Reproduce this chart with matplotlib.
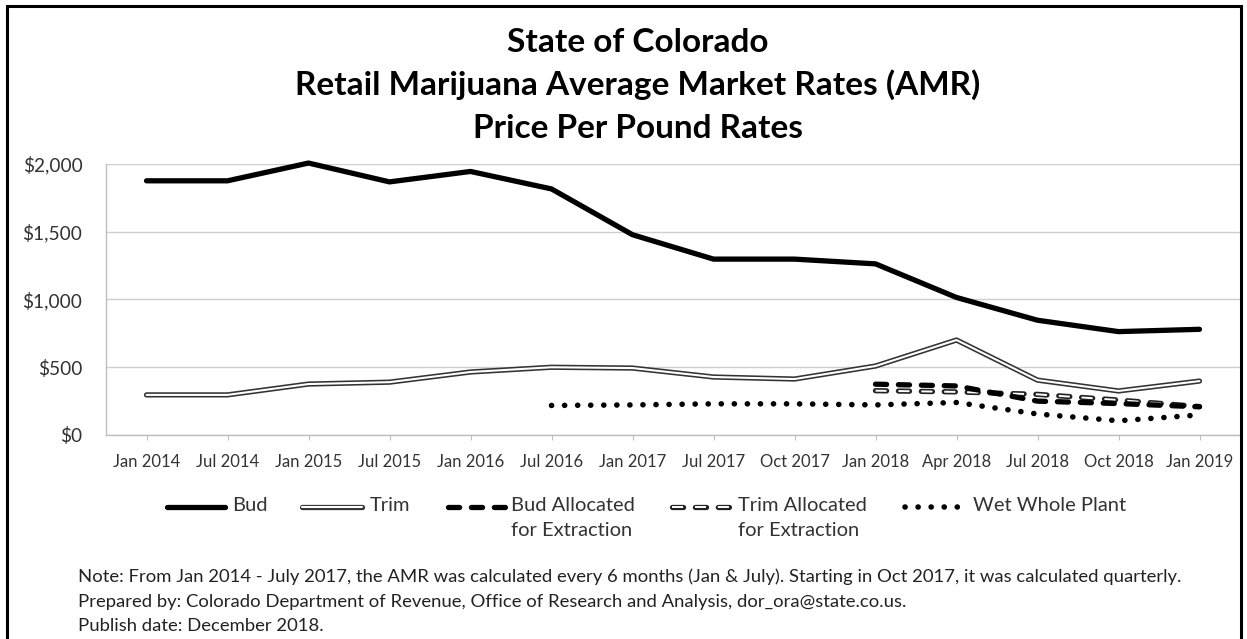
import numpy as np
import matplotlib
matplotlib.use("Agg")
import matplotlib.pyplot as plt
from matplotlib.lines import Line2D
from matplotlib.patches import Rectangle
from matplotlib.ticker import FuncFormatter

plt.rcParams['font.family'] = ['Lato', 'DejaVu Sans']
plt.rcParams['lines.scale_dashes'] = False

# === Data ===
periods = ['Jan 2014', 'Jul 2014', 'Jan 2015', 'Jul 2015', 'Jan 2016', 'Jul 2016',
           'Jan 2017', 'Jul 2017', 'Oct 2017', 'Jan 2018', 'Apr 2018', 'Jul 2018',
           'Oct 2018', 'Jan 2019']
bud = [1876, 1876, 2007, 1868, 1945, 1816, 1478, 1298, 1298, 1263, 1015, 847, 763, 780]
trim = [296, 296, 376, 390, 465, 500, 494, 428, 413, 509, 701, 405, 325, 398]
nan = np.nan
bud_extraction = [nan] * 9 + [375, 362, 250, 232, 208]
trim_extraction = [nan] * 9 + [327, 318, 300, 258, 210]
wet_whole_plant = [nan] * 5 + [218, 222, 230, 230, 222, 240, 155, 105, 148]

title_lines = ['State of Colorado',
               'Retail Marijuana Average Market Rates (AMR)',
               'Price Per Pound Rates']
notes = ['Note: From Jan 2014 - July 2017, the AMR was calculated every 6 months (Jan & July). '
         'Starting in Oct 2017, it was calculated quarterly.',
         'Prepared by: Colorado Department of Revenue, Office of Research and Analysis, dor_ora@state.co.us.',
         'Publish date: December 2018.']

W, H = 1247, 639
fig = plt.figure(figsize=(W / 100, H / 100), dpi=100)
fig.patch.set_facecolor('white')

def fx(px):
    return px / W

def fy(py):
    return 1 - py / H

# outer border
fig.add_artist(Rectangle((fx(7), fy(700)), fx(1241) - fx(7), fy(6) - fy(700),
                         transform=fig.transFigure, fill=False, edgecolor='black', lw=2.2))

ax = fig.add_axes([fx(106), fy(435), fx(1240) - fx(106), fy(164) - fy(435)])
x = np.arange(len(periods))

# === Styles ===
bud_style = dict(color='black', lw=3.8, solid_capstyle='round', solid_joinstyle='round')
trim_outer = dict(color='#333333', lw=3.8, solid_capstyle='round', solid_joinstyle='round')
trim_inner = dict(color='white', lw=1.5, solid_capstyle='round', solid_joinstyle='round')
bext_style = dict(color='black', lw=3.8, dashes=(8, 8.5), dash_capstyle='round')
text_outer = dict(color='#222222', lw=3.8, dashes=(8, 8.5), dash_capstyle='round')
text_inner = dict(color='white', lw=1.4, dashes=(8, 8.5), dash_capstyle='butt')
wet_style = dict(color='black', lw=4.0, dashes=(0.1, 9.3), dash_capstyle='round')

ax.plot(x, bud, clip_on=False, zorder=5, **bud_style)
ax.plot(x, trim, clip_on=False, zorder=4, **trim_outer)
ax.plot(x, trim, clip_on=False, zorder=4.1, **trim_inner)
ax.plot(x, trim_extraction, clip_on=False, zorder=3, **text_outer)
ax.plot(x, trim_extraction, clip_on=False, zorder=3.1, **text_inner)
ax.plot(x, bud_extraction, clip_on=False, zorder=3.5, **bext_style)
ax.plot(x, wet_whole_plant, clip_on=False, zorder=2, **wet_style)

# === Axes formatting ===
ax.set_xlim(-0.5, len(periods) - 0.5)
ax.set_ylim(0, 2000)
ax.set_yticks([0, 500, 1000, 1500, 2000])
ax.yaxis.set_major_formatter(FuncFormatter(lambda v, p: f"${v:,.0f}"))
ax.set_xticks(x)
ax.set_xticklabels(periods)
ax.grid(axis='y', color='#cfcfcf', lw=1)
ax.set_axisbelow(True)
for s in ['top', 'right']:
    ax.spines[s].set_visible(False)
for s in ['left', 'bottom']:
    ax.spines[s].set_color('#bdbdbd')
    ax.spines[s].set_linewidth(1)
ax.tick_params(axis='x', colors='#bdbdbd', length=3.5, labelcolor='#333333', labelsize=12, pad=10)
ax.tick_params(axis='y', length=0, labelcolor='#333333', labelsize=13.8, pad=17)

# === Title ===
for i, t in enumerate(title_lines):
    fig.text(fx(638), fy(42 + 43 * i), t, ha='center', va='center',
             fontsize=24, fontweight='bold', color='black')

# === Legend (drawn by hand, handles in figure coordinates) ===
leg_y = fy(507)
legend_items = [
    ([bud_style], 167, 225, 232, 'Bud'),
    ([trim_outer, trim_inner], 302, 362, 370, 'Trim'),
    ([bext_style], 448, 506, 511, 'Bud Allocated\nfor Extraction'),
    ([text_outer, text_inner], 672, 731, 738, 'Trim Allocated\nfor Extraction'),
    ([wet_style], 905, 962, 973, 'Wet Whole Plant'),
]
for styles, x0, x1, xt, label in legend_items:
    for st in styles:
        fig.add_artist(Line2D([fx(x0), fx(x1)], [leg_y, leg_y], transform=fig.transFigure, **st))
    fig.text(fx(xt), fy(497), label, ha='left', va='top', fontsize=14.5, color='#333333',
             linespacing=1.6)

# === Notes ===
for i, t in enumerate(notes):
    fig.text(fx(78), fy(577 + 24.5 * i), t, ha='left', va='center', fontsize=13.3, color='#222222')

fig.savefig('out.png', dpi=100)
